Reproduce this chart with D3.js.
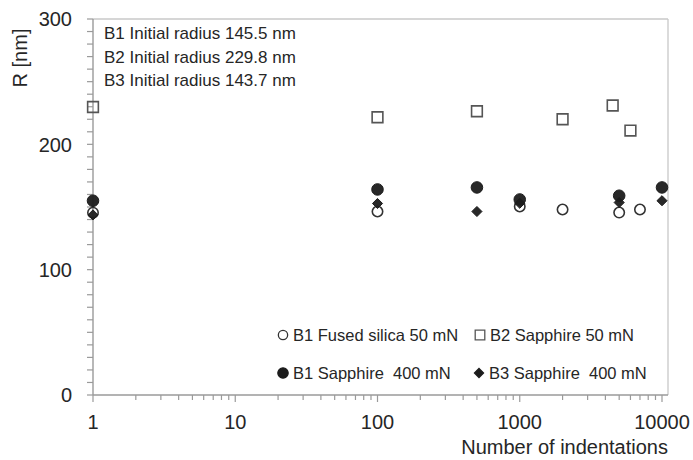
<!DOCTYPE html>
<html>
<head>
<meta charset="utf-8">
<script src="https://cdn.jsdelivr.net/npm/d3@7"></script>
<style>
body{margin:0;background:#fff;}
text{font-family:"Liberation Sans",Arial,sans-serif;fill:#262626;}
</style>
</head>
<body>
<div id="root"></div>
<script>
// data
var fusedX=[1,100,1000,2000,5000,7000];
var fusedY=[145.5,146.4,150.4,148,145.6,148];
var sapB2X=[1,100,500,2000,4500,6000];
var sapB2Y=[229.8,221.6,226.4,220,231,211];
var sapB1X=[1,100,500,1000,5000,10000];
var sapB1Y=[155,164,165.6,156,159,165.6];
var sapB3X=[1,100,500,1000,5000,10000];
var sapB3Y=[143.7,152.8,146.4,153,153.6,155];
var notes=['B1 Initial radius 145.5 nm','B2 Initial radius 229.8 nm','B3 Initial radius 143.7 nm'];
var xTicks=[1,10,100,1000,10000];
var yTicks=[0,100,200,300];

var W=693,H=460;
var margin={t:19,r:25,b:65,l:93};
var w=W-margin.l-margin.r, h=H-margin.t-margin.b;

var svg=d3.select('#root').append('svg')
	.attr('width',W).attr('height',H)
	.append('g')
	.attr('transform','translate('+margin.l+','+margin.t+')');

var xScale=d3.scaleLog().domain([1,10000]).range([0,w-6]);
var yScale=d3.scaleLinear().domain([0,300]).range([h,0]);

// plot area border top + right
svg.append('line').attr('x1',0).attr('x2',w).attr('y1',0).attr('y2',0)
	.attr('stroke','#c8c8c8').attr('stroke-width',1.3);
svg.append('line').attr('x1',w).attr('x2',w).attr('y1',0).attr('y2',h)
	.attr('stroke','#c8c8c8').attr('stroke-width',1.3);

// y axis with minor ticks
var yMinor=d3.range(0,301,10);
svg.append('g').selectAll('line').data(yMinor).enter().append('line')
	.attr('x1',-6).attr('x2',0)
	.attr('y1',function(d){return yScale(d)}).attr('y2',function(d){return yScale(d)})
	.attr('stroke','#9a9a9a').attr('stroke-width',1.2);
svg.append('line').attr('x1',0).attr('x2',0).attr('y1',0).attr('y2',h)
	.attr('stroke','#9a9a9a').attr('stroke-width',1.4);
svg.append('g').selectAll('text').data(yTicks).enter().append('text')
	.attr('x',-21).attr('y',function(d){return yScale(d)}).attr('dy','0.36em')
	.attr('text-anchor','end').style('font-size','20px')
	.text(function(d){return d});

// x axis with log minor ticks
var xMinor=[];
for(var dec=1;dec<10000;dec*=10){
	for(var k=2;k<=9;k++){xMinor.push(dec*k)}
}
svg.append('g').selectAll('line').data(xMinor).enter().append('line')
	.attr('x1',function(d){return xScale(d)}).attr('x2',function(d){return xScale(d)})
	.attr('y1',h).attr('y2',h+5)
	.attr('stroke','#9a9a9a').attr('stroke-width',1.2);
svg.append('g').selectAll('line').data(xTicks).enter().append('line')
	.attr('x1',function(d){return xScale(d)}).attr('x2',function(d){return xScale(d)})
	.attr('y1',h).attr('y2',h+7)
	.attr('stroke','#9a9a9a').attr('stroke-width',1.2);
svg.append('line').attr('x1',0).attr('x2',w).attr('y1',h).attr('y2',h)
	.attr('stroke','#9a9a9a').attr('stroke-width',1.4);
svg.append('g').selectAll('text').data(xTicks).enter().append('text')
	.attr('x',function(d){return xScale(d)}).attr('y',h+27).attr('dy','0.36em')
	.attr('text-anchor','middle').style('font-size','20px')
	.text(function(d){return d});

// axis titles
svg.append('text').attr('x',w).attr('y',h+52).attr('dy','0.36em')
	.attr('text-anchor','end').style('font-size','20px')
	.text('Number of indentations');
svg.append('text').attr('transform','translate('+(-73)+','+39+') rotate(-90)')
	.attr('text-anchor','middle').attr('dy','0.36em').style('font-size','20px')
	.text('R [nm]');

// notes
svg.append('g').selectAll('text').data(notes).enter().append('text')
	.attr('x',11).attr('y',function(d,i){return 14+i*23.5}).attr('dy','0.36em')
	.style('font-size','17px')
	.text(function(d){return d});

// markers
var sym=function(type,size){return d3.symbol().type(type).size(size)()};
var series=[
	{xs:fusedX,ys:fusedY,type:d3.symbolCircle,size:85,fill:'#fff',stroke:'#333',sw:1.6},
	{xs:sapB2X,ys:sapB2Y,type:d3.symbolSquare,size:115,fill:'#fff',stroke:'#555',sw:1.6},
	{xs:sapB1X,ys:sapB1Y,type:d3.symbolCircle,size:105,fill:'#1c1c1c',stroke:'#1c1c1c',sw:1},
	{xs:sapB3X,ys:sapB3Y,type:d3.symbolDiamond2,size:65,fill:'#1c1c1c',stroke:'#1c1c1c',sw:1}
];
series.forEach(function(s){
	svg.append('g').selectAll('path').data(s.xs).enter().append('path')
		.attr('d',sym(s.type,s.size))
		.attr('transform',function(d,i){return 'translate('+xScale(d)+','+yScale(s.ys[i])+')'})
		.attr('fill',s.fill).attr('stroke',s.stroke).attr('stroke-width',s.sw)
		.attr('fill-opacity',s.fill=='#fff'?0:0.95);
});

// legend
var legend=[
	{label:'B1 Fused silica 50 mN',x:190,y:316,s:0},
	{label:'B2 Sapphire 50 mN',x:387,y:316,s:1},
	{label:'B1 Sapphire  400 mN',x:190,y:354,s:2},
	{label:'B3 Sapphire  400 mN',x:386,y:354,s:3}
];
var lg=svg.append('g').selectAll('g').data(legend).enter().append('g')
	.attr('transform',function(d){return 'translate('+d.x+','+d.y+')'});
lg.append('path')
	.attr('d',function(d){var s=series[d.s];return sym(s.type,s.size*0.8)})
	.attr('fill',function(d){return series[d.s].fill})
	.attr('stroke',function(d){return series[d.s].stroke})
	.attr('stroke-width',1.3);
lg.append('text').attr('x',10).attr('dy','0.36em').style('font-size','16.5px')
	.style('white-space','pre')
	.text(function(d){return d.label});
</script>
</body>
</html>
